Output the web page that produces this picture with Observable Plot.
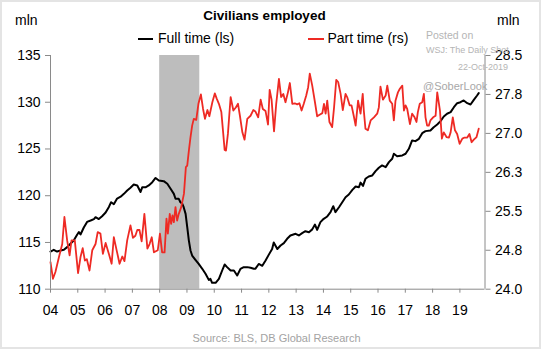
<!DOCTYPE html>
<html>
<head>
<meta charset="utf-8">
<script src="https://cdn.jsdelivr.net/npm/d3@7"></script>
<script src="https://cdn.jsdelivr.net/npm/@observablehq/plot@0.6"></script>
<style>
  html, body { margin: 0; padding: 0; background: #fff; }
  #wrap { position: relative; width: 541px; height: 349px; overflow: hidden; background: #fff;
          font-family: "Liberation Sans", Arial, Helvetica, sans-serif; }
  #wrap svg { position: absolute; left: 0; top: 0; }
  .t { position: absolute; white-space: nowrap; line-height: 1; }
  .border { position: absolute; left: 0; top: 0; width: 541px; height: 349px; box-sizing: border-box;
            border: 2px solid #e4e4e4; pointer-events: none; }
</style>
</head>
<body>
<div id="wrap"></div>
<script>
// ---- Data ----
// Full time employed (left scale, mln), x = decimal year
const ftYears = [2004.00,2004.12,2004.24,2004.37,2004.49,2004.61,2004.73,2004.85,2004.98,2005.04,2005.10,2005.22,2005.34,2005.47,2005.59,2005.65,2005.77,2005.89,2006.02,2006.14,2006.22,2006.32,2006.44,2006.57,2006.69,2006.81,2006.93,2007.05,2007.18,2007.24,2007.30,2007.36,2007.48,2007.60,2007.73,2007.85,2007.97,2008.15,2008.28,2008.40,2008.52,2008.58,2008.70,2008.76,2008.83,2008.88,2008.95,2009.01,2009.07,2009.13,2009.19,2009.31,2009.43,2009.56,2009.68,2009.80,2009.86,2009.92,2010.05,2010.17,2010.29,2010.38,2010.47,2010.60,2010.72,2010.84,2010.96,2011.08,2011.21,2011.33,2011.45,2011.51,2011.63,2011.76,2011.88,2012.00,2012.12,2012.18,2012.31,2012.43,2012.55,2012.67,2012.79,2012.98,2013.10,2013.22,2013.34,2013.47,2013.59,2013.69,2013.77,2013.89,2014.01,2014.14,2014.26,2014.36,2014.44,2014.57,2014.69,2014.81,2014.93,2015.06,2015.18,2015.30,2015.36,2015.45,2015.54,2015.66,2015.79,2015.91,2016.03,2016.15,2016.28,2016.40,2016.52,2016.58,2016.70,2016.89,2017.01,2017.13,2017.25,2017.37,2017.50,2017.62,2017.74,2017.92,2018.04,2018.17,2018.29,2018.41,2018.53,2018.66,2018.78,2018.90,2019.02,2019.14,2019.27,2019.39,2019.51,2019.63,2019.69];
const ftValues = [114.03,114.21,114.03,114.14,114.21,114.5,114.86,115.2,115.85,116.1,115.85,116.6,117.2,117.35,117.5,117.7,117.5,117.8,118.2,118.8,119.3,119.1,119.7,119.9,120.2,120.55,120.85,121.2,121.1,120.75,120.4,120.9,120.9,121.1,121.45,121.9,121.63,121.56,121.28,120.74,120.2,119.67,119.67,119.3,119.13,118.77,118.06,116.63,115.2,114.14,113.6,113.14,112.7,112.18,111.65,111.0,111.1,110.68,110.68,111.1,112.0,112.64,112.36,112.0,112.0,111.47,112.18,112.36,112.36,112.29,112.18,112.2,112.7,112.5,113.07,113.7,114.3,115.0,114.3,114.68,114.93,115.39,115.75,115.93,115.75,116.0,116.2,116.1,116.4,116.92,116.35,117.17,117.53,117.78,118.24,118.88,118.24,118.77,119.31,119.84,120.13,120.63,120.99,120.91,121.4,121.05,121.81,122.06,122.17,122.63,122.99,123.24,123.06,123.59,123.95,124.49,124.23,124.31,124.49,125.02,125.91,125.84,126.09,126.69,126.91,126.98,127.33,127.62,127.98,128.48,128.77,128.94,129.47,129.9,130.0,130.19,129.9,129.76,130.26,130.72,130.97];

// Part time employed (right scale, mln)
const ptYears = [2004.00,2004.09,2004.18,2004.31,2004.43,2004.51,2004.61,2004.70,2004.77,2004.89,2005.01,2005.10,2005.18,2005.26,2005.33,2005.43,2005.53,2005.65,2005.73,2005.83,2005.92,2006.02,2006.14,2006.24,2006.32,2006.44,2006.53,2006.63,2006.71,2006.81,2006.93,2007.02,2007.11,2007.18,2007.26,2007.34,2007.44,2007.55,2007.63,2007.71,2007.79,2007.93,2008.01,2008.09,2008.18,2008.25,2008.30,2008.37,2008.42,2008.47,2008.52,2008.58,2008.64,2008.70,2008.79,2008.89,2008.96,2009.01,2009.07,2009.13,2009.19,2009.25,2009.34,2009.42,2009.51,2009.59,2009.66,2009.75,2009.82,2009.93,2010.02,2010.09,2010.17,2010.26,2010.33,2010.38,2010.43,2010.50,2010.60,2010.70,2010.79,2010.87,2010.94,2011.03,2011.11,2011.21,2011.33,2011.43,2011.51,2011.61,2011.70,2011.78,2011.88,2011.97,2012.03,2012.10,2012.19,2012.27,2012.37,2012.45,2012.53,2012.61,2012.70,2012.77,2012.86,2012.95,2013.04,2013.12,2013.20,2013.28,2013.37,2013.44,2013.50,2013.59,2013.69,2013.77,2013.86,2013.96,2014.02,2014.08,2014.14,2014.22,2014.32,2014.39,2014.47,2014.54,2014.63,2014.71,2014.81,2014.87,2014.96,2015.03,2015.11,2015.18,2015.27,2015.36,2015.44,2015.48,2015.54,2015.63,2015.73,2015.85,2015.97,2016.03,2016.09,2016.18,2016.28,2016.34,2016.43,2016.52,2016.58,2016.64,2016.73,2016.80,2016.89,2016.95,2017.01,2017.07,2017.17,2017.25,2017.34,2017.41,2017.46,2017.53,2017.62,2017.68,2017.74,2017.80,2017.86,2017.92,2018.02,2018.11,2018.17,2018.27,2018.34,2018.41,2018.51,2018.60,2018.66,2018.74,2018.82,2018.90,2018.99,2019.09,2019.17,2019.27,2019.35,2019.43,2019.51,2019.61,2019.69];
const ptValues = [24.52,24.20,24.33,24.62,24.87,25.39,24.94,24.65,24.94,24.94,24.31,24.62,24.79,24.55,24.58,24.36,24.75,24.87,25.10,25.07,24.68,24.89,24.68,24.49,25.00,24.71,24.49,24.63,24.54,24.94,25.23,24.99,25.03,25.14,25.14,24.92,25.45,24.78,24.87,25.00,24.71,24.75,25.07,24.71,24.71,25.36,25.07,25.45,25.26,25.42,25.29,25.58,25.32,25.45,25.58,25.84,26.35,26.38,26.67,26.93,27.15,27.28,27.26,27.57,27.75,27.47,27.28,27.45,27.33,27.60,27.77,27.67,27.57,27.41,26.99,26.68,26.67,26.99,27.70,27.44,27.50,27.57,27.34,27.02,26.88,27.28,27.34,27.45,27.42,27.31,27.65,27.47,27.43,27.17,27.84,27.65,27.04,27.57,28.05,27.70,27.76,27.60,27.79,27.97,27.57,27.58,27.56,27.58,27.44,27.57,27.73,27.89,28.15,27.92,27.60,27.33,27.36,27.39,27.57,27.38,27.63,27.22,27.12,27.50,28.03,27.99,27.76,27.45,27.76,27.70,27.54,27.54,27.34,27.15,27.63,27.38,27.76,27.44,27.09,27.06,27.25,27.31,27.38,27.50,27.90,27.65,27.73,27.92,27.63,27.57,27.25,27.63,27.79,27.86,27.92,27.44,27.54,27.47,27.18,27.38,27.31,27.22,27.41,27.57,27.60,27.76,27.31,27.15,27.15,27.25,27.31,27.34,27.79,27.44,26.90,27.02,26.93,26.92,27.02,27.31,27.06,26.99,26.80,26.90,26.92,26.92,26.99,26.83,26.88,26.93,27.09];

// Recession (shaded band), decimal years
const recessionStart = [2008.0];
const recessionEnd = [2009.47];

// Axis ticks & labels
const xTickYears = [2004,2005,2006,2007,2008,2009,2010,2011,2012,2013,2014,2015,2016,2017,2018,2019];
const xTickLabels = ["04","05","06","07","08","09","10","11","12","13","14","15","16","17","18","19"];
const leftTicks = [110,115,120,125,130,135];
const rightTicks = [24.0,24.75,25.5,26.25,27.0,27.75,28.5];
const rightTickLabels = ["24.0","24.8","25.5","26.3","27.0","27.8","28.5"];

// ---- Build ----
const xDomain = [2004, 2019.92];
const yL = [110, 135];
const yR = [24, 28.5];
const toLeft = v => yL[0] + (v - yR[0]) * (yL[1] - yL[0]) / (yR[1] - yR[0]);

const ft = ftYears.map((x, i) => ({x, v: ftValues[i]}));
const pt = ptYears.map((x, i) => ({x, v: ptValues[i]}));
const rec = recessionStart.map((s, i) => ({s, e: recessionEnd[i]}));
const rightTickPos = rightTicks.map(toLeft);
const step = (yL[1] - yL[0]) / (rightTicks.length - 1);

const RED = "#ee2a24";
const AX = "#8a8a8a";

const chart = Plot.plot({
  width: 541,
  height: 349,
  marginLeft: 50,
  marginRight: 56.5,
  marginTop: 55,
  marginBottom: 60.3,
  x: {domain: xDomain},
  y: {domain: yL},
  style: {fontFamily: "'Liberation Sans', Arial, Helvetica, sans-serif", fontSize: "14px", color: "#000", background: "transparent", overflow: "visible"},
  marks: [
    Plot.rect(rec, {x1: "s", x2: "e", fill: "#bdbdbd"}),
    Plot.line(ft, {x: "x", y: "v", stroke: "#000", strokeWidth: 2}),
    Plot.line(pt, {x: "x", y: d => toLeft(d.v), stroke: RED, strokeWidth: 1.8}),
    Plot.ruleX(xDomain, {stroke: AX, strokeWidth: 1}),
    Plot.ruleY([yL[0]], {stroke: AX, strokeWidth: 1}),
    Plot.axisY(leftTicks, {anchor: "left", tickSize: 5, tickPadding: 5, stroke: AX, fill: "#000", label: null}),
    Plot.axisY(rightTickPos, {anchor: "right", tickSize: 5, tickPadding: 5, stroke: AX, fill: "#000", label: null,
      tickFormat: v => rightTickLabels[Math.round((v - yL[0]) / step)]}),
    Plot.axisX(xTickYears, {anchor: "bottom", tickSize: 4, tickPadding: 12, stroke: AX, fill: "#000", label: null,
      tickFormat: v => xTickLabels[xTickYears.indexOf(v)]})
  ]
});

const wrap = document.getElementById("wrap");
wrap.appendChild(chart);

function addText(txt, css) {
  const d = document.createElement("div");
  d.className = "t";
  d.textContent = txt;
  Object.assign(d.style, css);
  wrap.appendChild(d);
  return d;
}
function addLine(css) {
  const d = document.createElement("div");
  d.style.position = "absolute";
  Object.assign(d.style, css);
  wrap.appendChild(d);
}

// Title
addText("Civilians employed", {left: "0px", width: "529px", textAlign: "center", top: "9px", fontSize: "13.5px", fontWeight: "bold", color: "#000"});
// Unit labels
addText("mln", {left: "15px", top: "13px", fontSize: "14px", color: "#000"});
addText("mln", {left: "497px", top: "13px", fontSize: "14px", color: "#000"});
// Legend
addLine({left: "138px", top: "37.5px", width: "15px", height: "2px", background: "#000"});
addText("Full time (ls)", {left: "158px", top: "31px", fontSize: "14px", color: "#000"});
addLine({left: "308px", top: "37.5px", width: "16px", height: "2px", background: RED});
addText("Part time (rs)", {left: "327.5px", top: "31px", fontSize: "14px", color: "#000"});
// Watermark
addText("Posted on", {left: "426px", top: "30px", fontSize: "10.5px", color: "#b5b5b5"});
addText("WSJ: The Daily Shot", {left: "426px", top: "46px", fontSize: "9px", color: "#b5b5b5"});
addText("22-Oct-2019", {left: "458px", top: "63px", fontSize: "9px", color: "#b5b5b5"});
addText("@SoberLook", {left: "423px", top: "81px", fontSize: "11px", color: "#a8a8a8"});
// Source
addText("Source: BLS, DB Global Research", {left: "0px", width: "553px", textAlign: "center", top: "333px", fontSize: "11px", color: "#a3a3a3"});

const b = document.createElement("div");
b.className = "border";
wrap.appendChild(b);
</script>
</body>
</html>
